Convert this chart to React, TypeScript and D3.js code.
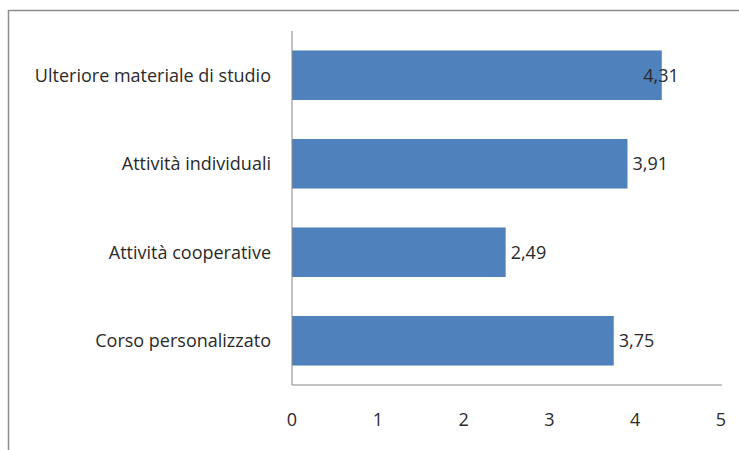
import React from "react";
import * as d3 from "d3";

const categories = [
  "Ulteriore materiale di studio",
  "Attività individuali",
  "Attività cooperative",
  "Corso personalizzato",
];
const values = [4.31, 3.91, 2.49, 3.75];
const xTicks = [0, 1, 2, 3, 4, 5];

const W = 739;
const H = 450;
const plot = { left: 292, right: 721, top: 31, bottom: 385 };
const font = "'Open Sans', 'Liberation Sans', sans-serif";
const barColor = "#4F81BD";
const fs = 18;

export default function App() {
  const x = d3.scaleLinear().domain([0, 5]).range([plot.left, plot.right]);
  const y = d3
    .scaleBand<string>()
    .domain(categories)
    .range([plot.top, plot.bottom])
    .paddingInner(0.44)
    .paddingOuter(0.22);
  const fmt = (v: number) => d3.format(".2f")(v).replace(".", ",");

  return (
    <svg
      width={W}
      height={H}
      style={{ position: "absolute", left: 0, top: 0, background: "#fff" }}
    >
      <rect x={0} y={0} width={W} height={H} fill="#fff" />
      <path
        d={`M${W + 5},10.5 H8.5 V${H + 5}`}
        fill="none"
        stroke="#8c8c8c"
        strokeWidth={1.5}
      />
      {categories.map((c, i) => {
        const v = values[i];
        const by = y(c)!;
        const bh = y.bandwidth();
        const cy = by + bh / 2;
        const lx = Math.min(x(v) + 5, x(4) + 8);
        return (
          <g key={c}>
            <rect x={x(0)} y={by} width={x(v) - x(0)} height={bh} fill={barColor} />
            <text
              x={271}
              y={cy}
              dy="0.35em"
              textAnchor="end"
              fontFamily={font}
              fontSize={fs}
              fill="#2a2a2a"
            >
              {c}
            </text>
            <text
              x={lx}
              y={cy}
              dy="0.35em"
              fontFamily={font}
              fontSize={fs}
              fill="#2a2a2a"
            >
              {fmt(v)}
            </text>
          </g>
        );
      })}
      <line x1={plot.left} x2={plot.left} y1={plot.top} y2={plot.bottom} stroke="#868686" strokeWidth={1} />
      <line x1={plot.left} x2={plot.right + 1} y1={plot.bottom} y2={plot.bottom} stroke="#868686" strokeWidth={1} />
      {xTicks.map((t) => (
        <text
          key={t}
          x={x(t)}
          y={420}
          dy="0.35em"
          textAnchor="middle"
          fontFamily={font}
          fontSize={fs}
          fill="#2a2a2a"
        >
          {t}
        </text>
      ))}
    </svg>
  );
}
